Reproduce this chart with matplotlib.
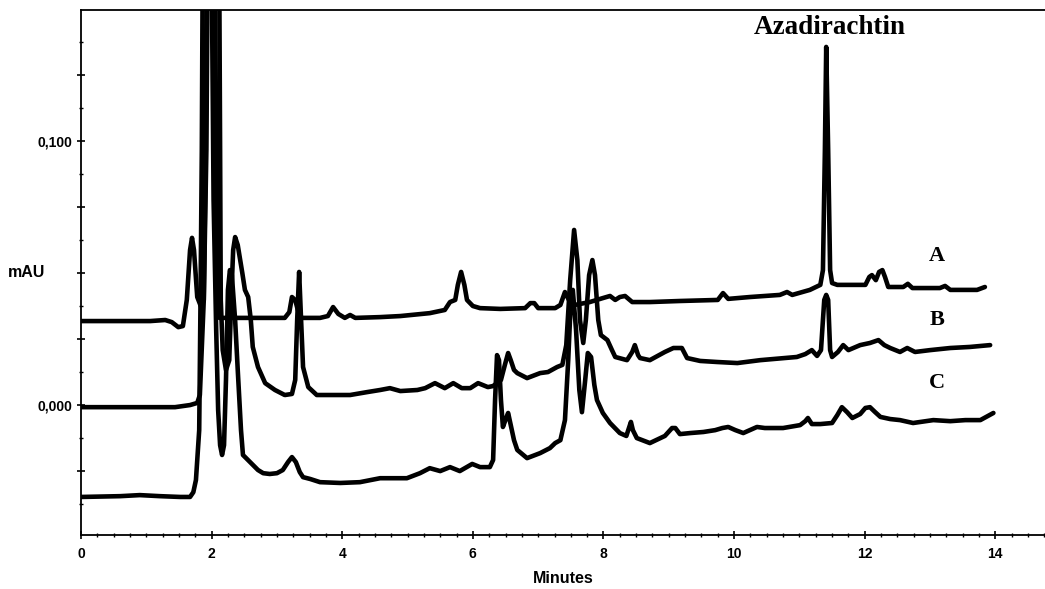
import matplotlib
matplotlib.use("Agg")
import matplotlib.pyplot as plt
from matplotlib.ticker import MultipleLocator, FuncFormatter

# ---- data: retention time (min) and signal (thousandths of axis unit) ----
a_t = [0.00, 1.06, 1.29, 1.39, 1.49, 1.56, 1.62, 1.67, 1.70, 1.73, 1.78, 1.84, 1.88, 1.92, 1.95,
       2.04, 2.07, 2.09, 2.12, 2.43, 2.82, 3.12, 3.19, 3.23, 3.28, 3.32, 3.38, 3.66, 3.78, 3.86,
       3.94, 4.04, 4.12, 4.20, 4.58, 4.89, 5.34, 5.57, 5.65, 5.73, 5.77, 5.82, 5.87, 5.91, 6.00,
       6.11, 6.42, 6.80, 6.88, 6.94, 7.00, 7.26, 7.34, 7.41, 7.47, 7.56, 7.79, 7.99, 8.10, 8.18,
       8.25, 8.33, 8.44, 8.71, 9.17, 9.75, 9.83, 9.91, 10.24, 10.70, 10.81, 10.89, 11.16, 11.32,
       11.36, 11.39, 11.41, 11.44, 11.47, 11.50, 11.58, 12.01, 12.07, 12.11, 12.17, 12.22, 12.27,
       12.31, 12.36, 12.59, 12.66, 12.73, 13.15, 13.23, 13.31, 13.72, 13.84]
a_v = [31.8, 31.8, 32.2, 31.4, 29.5, 29.9, 39.8, 58.7, 63.3, 58.7, 40.9, 37.1, 39.8, 96.6, 200.0,
       200.0, 96.6, 40.0, 33.0, 33.0, 33.0, 33.0, 35.2, 40.9, 39.8, 36.0, 33.0, 33.0, 33.7, 37.1,
       34.5, 33.0, 34.1, 33.0, 33.3, 33.7, 34.8, 36.0, 39.0, 39.8, 45.5, 50.4, 45.5, 39.8, 37.5,
       36.7, 36.4, 36.7, 38.6, 38.6, 36.7, 36.7, 37.9, 42.8, 39.8, 37.9, 39.0, 40.5, 41.3, 39.8,
       40.9, 41.3, 39.0, 39.0, 39.4, 39.8, 42.4, 40.2, 40.9, 41.7, 42.8, 41.7, 43.6, 45.5,
       51.1, 96.6, 135.6, 96.6, 51.1, 46.2, 45.5, 45.5, 48.5, 49.2, 47.3, 50.4, 51.1,
       48.5, 44.7, 44.7, 45.9, 44.3, 44.3, 45.1, 43.6, 43.6, 44.7]

b_t = [0.00, 1.44, 1.67, 1.78, 1.82, 1.88, 1.91, 1.93, 2.11, 2.13, 2.14, 2.17, 2.22, 2.27, 2.30,
       2.33, 2.36, 2.40, 2.47, 2.51, 2.56, 2.60, 2.63, 2.71, 2.82, 2.97, 3.12, 3.23, 3.28, 3.31,
       3.34, 3.37, 3.40, 3.48, 3.61, 4.12, 4.38, 4.58, 4.73, 4.89, 5.15, 5.27, 5.42, 5.57, 5.70,
       5.83, 5.96, 6.08, 6.23, 6.31, 6.43, 6.49, 6.54, 6.58, 6.63, 6.68, 6.83, 7.03, 7.15, 7.29,
       7.37, 7.43, 7.49, 7.55, 7.60, 7.64, 7.69, 7.73, 7.78, 7.83, 7.87, 7.92, 7.96, 8.06, 8.13,
       8.18, 8.36, 8.44, 8.48, 8.53, 8.56, 8.71, 8.94, 9.07, 9.20, 9.28, 9.48, 9.74, 10.05, 10.40,
       10.96, 11.09, 11.19, 11.27, 11.33, 11.38, 11.41, 11.44, 11.47, 11.50, 11.59, 11.67, 11.75,
       11.93, 12.08, 12.21, 12.30, 12.39, 12.54, 12.65, 12.77, 13.00, 13.31, 13.61, 13.92]
b_v = [-0.8, -0.8, 0.0, 0.8, 3.8, 39.8, 96.6, 200.0, 200.0, 96.6, 39.8, 20.8, 13.3, 17.0, 39.8,
       58.7, 63.6, 60.6, 50.0, 43.6, 40.9, 32.2, 22.0, 14.4, 8.3, 5.7, 3.8, 4.2, 9.5, 32.2,
       50.4, 32.2, 14.4, 6.8, 3.8, 3.8, 4.9, 5.7, 6.4, 5.3, 5.7, 6.4, 8.3, 6.4, 8.3,
       6.4, 6.4, 8.3, 6.8, 7.2, 9.5, 15.2, 19.7, 17.0, 13.3, 12.1, 10.2, 12.1, 12.5, 14.4,
       15.2, 22.7, 47.3, 66.3, 54.9, 32.2, 23.5, 32.2, 49.2, 54.9, 49.2, 32.2, 26.5, 24.6, 20.8,
       18.2, 17.0, 20.1, 22.7, 18.9, 17.8, 17.0, 20.1, 21.6, 21.6, 17.8, 16.7, 16.3, 15.9, 17.0,
       18.2, 19.3, 20.8, 18.6, 20.8, 39.8, 41.7, 39.8, 20.8, 18.2, 20.1, 22.7, 20.8,
       22.7, 23.5, 24.6, 22.7, 21.6, 20.1, 21.6, 20.1, 20.8, 21.6, 22.0, 22.7]

c_t = [0.00, 0.60, 0.90, 1.21, 1.52, 1.67, 1.72, 1.76, 1.81, 1.83, 1.85, 1.87, 1.99, 2.03, 2.07,
       2.10, 2.13, 2.16, 2.19, 2.22, 2.25, 2.28, 2.31, 2.36, 2.40, 2.45, 2.48, 2.59, 2.71, 2.79,
       2.89, 3.00, 3.09, 3.17, 3.23, 3.29, 3.35, 3.40, 3.51, 3.66, 3.97, 4.27, 4.58, 4.81, 4.99,
       5.19, 5.34, 5.50, 5.65, 5.80, 5.99, 6.11, 6.26, 6.31, 6.34, 6.37, 6.40, 6.43, 6.46, 6.51,
       6.54, 6.58, 6.63, 6.68, 6.83, 7.03, 7.18, 7.26, 7.34, 7.41, 7.46, 7.50, 7.53, 7.58, 7.63,
       7.67, 7.72, 7.76, 7.81, 7.86, 7.90, 7.99, 8.10, 8.25, 8.35, 8.39, 8.42, 8.45, 8.51, 8.71,
       8.94, 9.05, 9.10, 9.17, 9.33, 9.53, 9.71, 9.82, 9.91, 10.02, 10.14, 10.24, 10.35, 10.47,
       10.75, 11.01, 11.09, 11.13, 11.19, 11.32, 11.50, 11.58, 11.65, 11.73, 11.81, 11.93, 12.01,
       12.08, 12.16, 12.24, 12.39, 12.54, 12.74, 13.05, 13.31, 13.54, 13.77, 13.97]
c_v = [-34.8, -34.5, -34.1, -34.5, -34.8, -34.8, -33.0, -28.4, -9.5, 39.8, 96.6, 200.0, 200.0, 77.7, 28.4,
       -1.9, -15.2, -18.9, -15.2, 9.5, 43.6, 51.1, 49.2, 32.2, 13.3, -9.5, -18.9, -21.6, -24.6, -25.8,
       -26.1, -25.8, -24.6, -21.6, -19.7, -21.6, -25.4, -27.3, -28.0, -29.2, -29.5, -29.2, -27.7, -27.7, -27.7,
       -25.8, -23.9, -25.0, -23.5, -25.0, -22.3, -23.5, -23.5, -20.8, 1.9, 18.9, 17.0, 1.9, -8.3, -4.9,
       -3.0, -7.6, -13.3, -17.0, -20.1, -18.2, -16.3, -14.4, -13.3, -5.7, 17.0, 39.8, 43.6, 28.4, 5.7,
       -2.7, 9.5, 19.7, 18.2, 7.6, 1.9, -3.0, -6.8, -10.6, -11.7, -8.7, -6.4, -9.5, -12.5, -14.4,
       -11.7, -8.7, -8.7, -11.0, -10.6, -10.2, -9.5, -8.7, -8.3, -9.5, -10.6, -9.5, -8.3, -8.7,
       -8.7, -7.6, -6.1, -4.9, -7.2, -7.2, -6.8, -3.8, -0.8, -2.7, -4.9, -3.4, -1.1,
       -0.8, -2.7, -4.5, -5.3, -5.7, -6.8, -5.7, -6.1, -5.7, -5.7, -3.0]

trace_names = ["A", "B", "C"]
label_t = 13.11
label_v = [0.0564, 0.0322, 0.0083]
peak_label = "Azadirachtin"
peak_label_pos = (11.47, 0.1428)
x_ticks = [0, 2, 4, 6, 8, 10, 12, 14]
y_tick_labels = {0.0: "0,000", 0.1: "0,100"}
UNIT = 1e-3  # stored values are in thousandths of the axis unit

# ---- figure ----
fig = plt.figure(figsize=(10.45, 5.89), dpi=100)
ax = fig.add_axes([0.0775, 0.0917, 0.9225, 0.8914])

for t, v in [(a_t, a_v), (b_t, b_v), (c_t, c_v)]:
    ax.plot(t, [x * UNIT for x in v], color="black", lw=3.3,
            solid_joinstyle="round", solid_capstyle="round")

ax.set_xlim(0, 14.76)
ax.set_ylim(-0.0492, 0.1496)

ax.spines["right"].set_visible(False)
for s in ["left", "bottom", "top"]:
    ax.spines[s].set_linewidth(1.3)

ax.set_xticks(x_ticks)
ax.set_xticklabels([str(x) for x in x_ticks])
ax.xaxis.set_minor_locator(MultipleLocator(0.25))
ax.yaxis.set_major_locator(MultipleLocator(0.025))
ax.yaxis.set_minor_locator(MultipleLocator(0.0125))


def yfmt(val, pos):
    for k, lab in y_tick_labels.items():
        if abs(val - k) < 1e-6:
            return lab
    return ""


ax.yaxis.set_major_formatter(FuncFormatter(yfmt))
ax.tick_params(axis="both", which="major", direction="inout", length=6, width=1.2,
               labelsize=10)
ax.tick_params(axis="both", which="minor", direction="inout", length=3, width=1.0)
ax.tick_params(axis="x", pad=6)
for lab in ax.get_xticklabels() + ax.get_yticklabels():
    lab.set_fontweight("bold")
    lab.set_fontfamily("Liberation Sans")

ax.set_xlabel("Minutes", fontsize=11.5, fontweight="bold", family="Liberation Sans", labelpad=7)
fig.text(0.025, 0.538, "mAU", fontsize=11.5, fontweight="bold", family="Liberation Sans",
         ha="center", va="center")

for name, yy in zip(trace_names, label_v):
    ax.text(label_t, yy, name, fontsize=16, fontweight="bold", family="Liberation Serif",
            ha="center", va="center")

ax.text(peak_label_pos[0], peak_label_pos[1], peak_label, fontsize=19.5, fontweight="bold",
        family="Liberation Serif", ha="center", va="center")

fig.savefig("out.png", dpi=100, facecolor="white")
